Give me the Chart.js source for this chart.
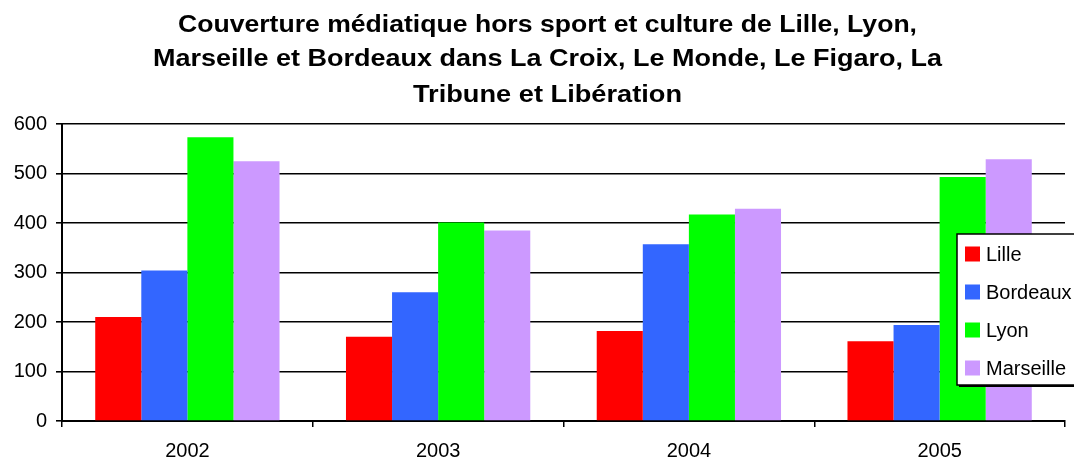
<!DOCTYPE html>
<html>
<head>
<meta charset="utf-8">
<script src="https://cdn.jsdelivr.net/npm/chart.js@4/dist/chart.umd.min.js"></script>
<style>
  html, body { margin: 0; padding: 0; background: #fff; }
  #wrap { width: 1074px; height: 464px; }
</style>
</head>
<body>
<div id="wrap"><canvas id="chart" width="1074" height="464"></canvas></div>
<script>
// Données du graphique
const years = ["2002", "2003", "2004", "2005"];
const lille = [210, 170, 182, 161];
const bordeaux = [304, 260, 357, 194];
const lyon = [573, 401, 417, 493];
const marseille = [525, 385, 429, 529];
const yTicks = [0, 100, 200, 300, 400, 500, 600];
const titleLines = [
  "Couverture médiatique hors sport et culture de Lille, Lyon,",
  "Marseille et Bordeaux dans La Croix, Le Monde, Le Figaro, La",
  "Tribune et Libération"
];

const series = [
  { label: "Lille", data: lille, color: "#FF0000" },
  { label: "Bordeaux", data: bordeaux, color: "#3366FF" },
  { label: "Lyon", data: lyon, color: "#00FF00" },
  { label: "Marseille", data: marseille, color: "#CC99FF" }
];

// Titre sur trois lignes, chaque ligne étirée à la largeur de l'original
const titlePlugin = {
  id: "titre",
  afterDraw(chart) {
    const ctx = chart.ctx;
    const base = [32, 66, 101.5];
    const widths = [739, 789, 269];
    ctx.save();
    ctx.fillStyle = "#000";
    ctx.font = "bold 23.5px 'Liberation Sans', Arial, sans-serif";
    ctx.textAlign = "center";
    ctx.textBaseline = "alphabetic";
    titleLines.forEach((t, i) => {
      const sx = widths[i] / ctx.measureText(t).width;
      ctx.save();
      ctx.translate(547.5, base[i]);
      ctx.scale(sx, 1);
      ctx.fillText(t, 0, 0);
      ctx.restore();
    });
    ctx.restore();
  }
};

// Légende encadrée, coupée à droite comme dans l'original
const legendPlugin = {
  id: "legende",
  afterDraw(chart) {
    const ctx = chart.ctx;
    const x = 957, y = 234, w = 140, h = 151;
    ctx.save();
    ctx.fillStyle = "#000";
    ctx.fillRect(x + 2, y + 2, w, h);
    ctx.fillStyle = "#fff";
    ctx.fillRect(x, y, w, h);
    ctx.strokeStyle = "#000";
    ctx.lineWidth = 1.5;
    ctx.strokeRect(x, y, w, h);
    ctx.font = "20px 'Liberation Sans', Arial, sans-serif";
    ctx.textBaseline = "middle";
    ctx.textAlign = "left";
    series.forEach((s, i) => {
      const cy = 254 + i * 38;
      ctx.fillStyle = s.color;
      ctx.fillRect(965, cy - 7.5, 15, 15);
      ctx.fillStyle = "#000";
      ctx.fillText(s.label, 986, cy + 1);
    });
    ctx.restore();
  }
};

const ctx = document.getElementById("chart").getContext("2d");
new Chart(ctx, {
  type: "bar",
  data: {
    labels: years,
    datasets: series.map(s => ({
      label: s.label,
      data: s.data,
      backgroundColor: s.color,
      borderWidth: 0,
      barPercentage: 1.0,
      categoryPercentage: 0.735
    }))
  },
  options: {
    responsive: false,
    animation: false,
    layout: { padding: { top: 124, right: 9, left: 0, bottom: 0 } },
    plugins: {
      legend: { display: false },
      title: { display: false },
      tooltip: { enabled: false }
    },
    scales: {
      x: {
        afterFit(scale) { scale.height = 43; },
        grid: {
          offset: true,
          drawOnChartArea: false,
          drawTicks: true,
          tickLength: 6,
          color: "#000",
          lineWidth: 1.5
        },
        border: { display: true, color: "#000", width: 2 },
        ticks: {
          color: "#000",
          padding: 12,
          font: { family: "'Liberation Sans', Arial, sans-serif", size: 20 }
        }
      },
      y: {
        min: 0,
        max: 600,
        afterFit(scale) { scale.width = 62; },
        afterBuildTicks(scale) { scale.ticks = yTicks.map(v => ({ value: v })); },
        grid: {
          color: "#000",
          lineWidth: 1.6,
          drawTicks: true,
          tickLength: 6
        },
        border: { display: true, color: "#000", width: 2 },
        ticks: {
          color: "#000",
          padding: 9,
          font: { family: "'Liberation Sans', Arial, sans-serif", size: 20 }
        }
      }
    }
  },
  plugins: [titlePlugin, legendPlugin]
});
</script>
</body>
</html>
